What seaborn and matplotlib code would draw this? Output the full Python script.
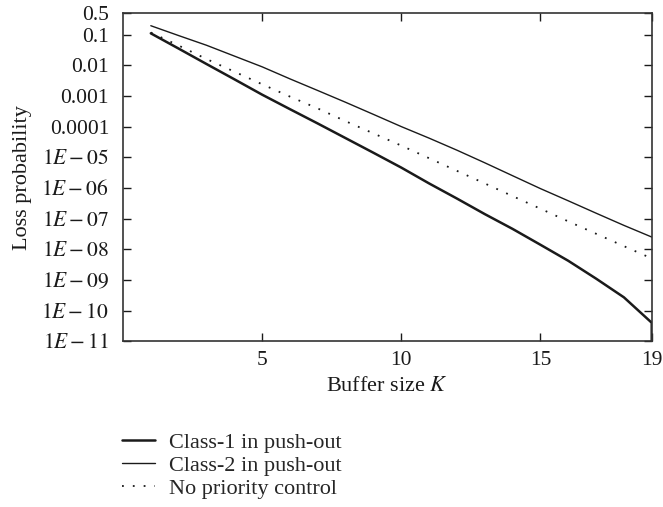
import numpy as np
import pandas as pd
import matplotlib
matplotlib.use("Agg")
import matplotlib.pyplot as plt
import seaborn as sns

# buffer sizes and loss probabilities
buffer_k = [1, 2, 3, 4, 5, 6, 7, 8, 9, 10, 11, 12, 13, 14, 15, 16, 17, 18, 19]
class1_k = buffer_k + [19]          # curve drops off the axis at K = 19
class1_loss = [1.1e-1, 3.5e-2, 1.1e-2, 3.5e-3, 1.1e-3, 3.7e-4, 1.26e-4, 4.2e-5,
               1.4e-5, 4.6e-6, 1.4e-6, 4.5e-7, 1.4e-7, 4.6e-8, 1.4e-8, 4.2e-9,
               1.1e-9, 2.7e-10, 4.0e-11, 1e-12]
class2_loss = [1.95e-1, 9.3e-2, 4.5e-2, 2.0e-2, 8.9e-3, 3.6e-3, 1.5e-3, 6.2e-4,
               2.5e-4, 1.0e-4, 4.2e-5, 1.7e-5, 6.6e-6, 2.5e-6, 9.5e-7, 3.8e-7,
               1.5e-7, 6.0e-8, 2.5e-8]
nopri_loss = [1.17e-1, 4.4e-2, 1.6e-2, 6.2e-3, 2.4e-3, 9.5e-4, 3.9e-4, 1.5e-4,
              6.0e-5, 2.4e-5, 9.3e-6, 3.6e-6, 1.4e-6, 5.4e-7, 2.1e-7, 8.1e-8,
              3.2e-8, 1.26e-8, 5.0e-9]

ytick_vals = [0.5, 1e-1, 1e-2, 1e-3, 1e-4, 1e-5, 1e-6, 1e-7, 1e-8, 1e-9, 1e-10, 1e-11]
ytick_labels = ["0.5", "0.1", "0.01", "0.001", "0.0001",
                "$1E-05$", "$1E-06$", "$1E-07$", "$1E-08$",
                "$1E-09$", "$1E-10$", "$1E-11$"]
xtick_vals = [5, 10, 15, 19]

sns.set_theme(style="ticks")
plt.rcParams["font.family"] = ["Liberation Serif", "DejaVu Serif"]
plt.rcParams["mathtext.fontset"] = "stix"

fig = plt.figure(figsize=(6.63, 5.07), dpi=100)
ax = fig.add_axes([0.1855, 0.327, 0.7975, 0.647])

ink = "#1a1a1a"
sns.lineplot(x=class1_k, y=class1_loss, ax=ax, color=ink, lw=1.8,
             estimator=None, sort=False, label="Class-1 in push-out")
sns.lineplot(x=buffer_k, y=class2_loss, ax=ax, color=ink, lw=1.0,
             estimator=None, sort=False, label="Class-2 in push-out")
sns.lineplot(x=buffer_k, y=nopri_loss, ax=ax, color=ink, lw=1.3,
             linestyle=(0, (1, 5)), estimator=None, sort=False,
             label="No priority control")

ax.set_yscale("log")
ax.set_xlim(0, 19)
ax.set_ylim(1e-11, 0.5)
ax.set_yticks(ytick_vals)
ax.set_yticklabels(ytick_labels)
ax.set_xticks(xtick_vals)
ax.minorticks_off()
ax.tick_params(direction="in", length=6, width=1, top=True, right=True,
               labelsize=15.5, colors=ink)
ax.tick_params(axis="y", pad=10)
ax.tick_params(axis="x", pad=7)
for s in ax.spines.values():
    s.set_color("#333333")
    s.set_linewidth(1.2)

ax.set_xlabel("Buffer size $K$", fontsize=16, color=ink, labelpad=5)
ax.set_ylabel("Loss probability", fontsize=16, color=ink)
ax.yaxis.set_label_coords(-0.172, 0.5)

ax.legend(loc="upper left", bbox_to_anchor=(0.184, 0.148),
          bbox_transform=fig.transFigure, frameon=False, fontsize=16,
          handlelength=1.5, handletextpad=0.6, labelspacing=0.12,
          borderpad=0, borderaxespad=0)

plt.savefig("out.png", dpi=100)
